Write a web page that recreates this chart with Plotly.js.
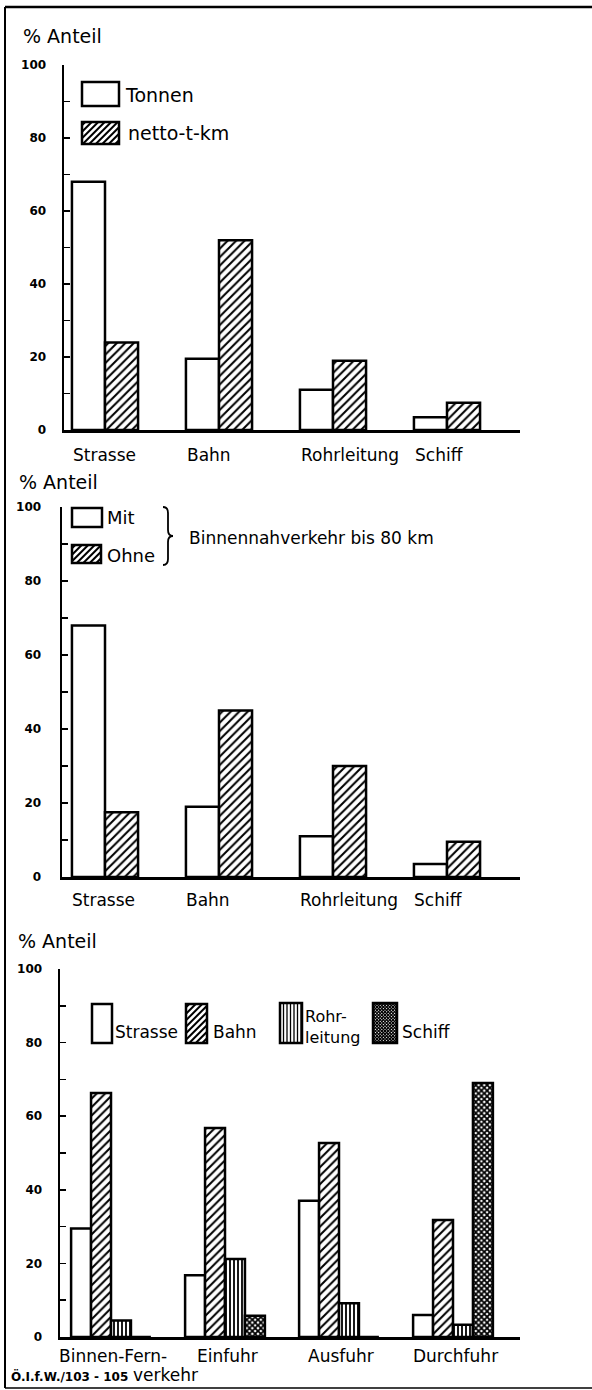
<!DOCTYPE html>
<html>
<head>
<meta charset="utf-8">
<script src="https://cdn.plot.ly/plotly-3.0.1.min.js"></script>
<style>
html,body{margin:0;padding:0;background:#fff;}
#chart{width:592px;height:1390px;}
</style>
</head>
<body>
<div id="chart"></div>
<script>
// ---------- data ----------
const cats1 = ["Strasse", "Bahn", "Rohrleitung", "Schiff"];
const tonnen = [68, 19.5, 11, 3.5];
const nettoTkm = [24, 52, 19, 7.5];

const cats2 = ["Strasse", "Bahn", "Rohrleitung", "Schiff"];
const mitNah = [68, 19, 11, 3.5];
const ohneNah = [17.5, 45, 30, 9.5];

const cats3 = ["Binnen-Fernverkehr", "Einfuhr", "Ausfuhr", "Durchfuhr"];
const catLabels3 = ["Binnen-Fern-|verkehr", "Einfuhr", "Ausfuhr", "Durchfuhr"];
const strasse3 = [29.5, 16.8, 37, 6];
const bahn3 = [66.3, 56.8, 52.7, 31.8];
const rohr3 = [4.5, 21.2, 9.2, 3.3];
const schiff3 = [0, 5.8, 0, 69];

const yTicks = [0, 20, 40, 60, 80, 100];

// ---------- helpers ----------
const W = 592, H = 1390;
const X = p => p / W;
const Y = p => 1 - p / H;
const FONT = "DejaVu Sans";
const INK = "#000";

const lineStyle = {color: INK, width: 2.5};
const patDiag = {shape: "/", fgcolor: INK, bgcolor: "white", size: 6, solidity: 0.34};
const patVert = {shape: "|", fgcolor: INK, bgcolor: "white", size: 4, solidity: 0.45};
const patCross = {shape: "x", fgcolor: INK, bgcolor: "white", size: 4, solidity: 0.7};

function bar(xs, ys, xa, ya, offset, width, pattern) {
  const m = {color: "white", line: lineStyle};
  if (pattern) m.pattern = pattern;
  return {type: "bar", x: xs, y: ys, xaxis: xa, yaxis: ya, offset: offset, width: width,
          marker: m, showlegend: false, hoverinfo: "skip"};
}

const w12 = 0.29, w3 = 0.175;
const data = [
  bar(cats1, tonnen, "x", "y", -w12, w12, null),
  bar(cats1, nettoTkm, "x", "y", 0, w12, patDiag),
  bar(cats2, mitNah, "x2", "y2", -w12, w12, null),
  bar(cats2, ohneNah, "x2", "y2", 0, w12, patDiag),
  bar(cats3, strasse3, "x3", "y3", -2 * w3, w3, null),
  bar(cats3, bahn3, "x3", "y3", -w3, w3, patDiag),
  bar(cats3, rohr3, "x3", "y3", 0, w3, patVert),
  bar(cats3, schiff3, "x3", "y3", w3, w3, patCross)
];

function xAxis(x0px, range, anchor) {
  return {domain: [X(x0px), X(520)], range: range, type: "category", anchor: anchor,
          showline: true, linecolor: INK, linewidth: 2.5, ticks: "", showticklabels: false,
          showgrid: false, zeroline: false, fixedrange: true};
}
function yAxis(py0, py100, anchor, standoff) {
  return {domain: [Y(py0), Y(py100)], range: [0, 100], anchor: anchor,
          showline: true, linecolor: INK, linewidth: 2.5,
          tickmode: "array", tickvals: yTicks, ticktext: yTicks.map(String),
          ticks: "inside", ticklen: 6, tickwidth: 1.5, tickcolor: INK,
          minor: {dtick: 10, tick0: 0, ticks: "inside", ticklen: 6, tickwidth: 1.5, tickcolor: INK},
          tickfont: {family: FONT, size: 12, color: INK, weight: "bold"},
          ticklabelstandoff: standoff,
          showgrid: false, zeroline: false, fixedrange: true};
}

// ---------- shapes (frame, legend swatches) ----------
const shapes = [];
function lineShape(x0, y0, x1, y1, w) {
  shapes.push({type: "line", xref: "paper", yref: "paper", x0: X(x0), y0: Y(y0), x1: X(x1), y1: Y(y1),
               line: {color: INK, width: w}});
}
lineShape(5, 7, 5, 1388, 2);
lineShape(5, 7, 592, 7, 2.5);
lineShape(5, 1388, 592, 1388, 1.5);

function pathShape(d, w) {
  shapes.push({type: "path", xref: "paper", yref: "paper", path: d, line: {color: INK, width: w}});
}
function P(x, y) { return X(x).toFixed(5) + "," + Y(y).toFixed(5); }
function diagPath(x0, y0, x1, y1, s, back) {
  let d = "";
  if (!back) {
    for (let c = x0 + y0 + s / 2; c < x1 + y1; c += s) {
      const xa = Math.max(x0, c - y1), xb = Math.min(x1, c - y0);
      if (xb > xa) d += "M" + P(xa, c - xa) + "L" + P(xb, c - xb);
    }
  } else {
    for (let c = x0 - y1 + s / 2; c < x1 - y0; c += s) {
      const xa = Math.max(x0, c + y0), xb = Math.min(x1, c + y1);
      if (xb > xa) d += "M" + P(xa, xa - c) + "L" + P(xb, xb - c);
    }
  }
  return d;
}
function vertPath(x0, y0, x1, y1, s) {
  let d = "";
  for (let x = x0 + s; x < x1 - 0.5; x += s) d += "M" + P(x, y0) + "L" + P(x, y1);
  return d;
}
function swatch(x0, y0, x1, y1, kind) {
  if (kind === "diag") pathShape(diagPath(x0, y0, x1, y1, 6.5, false), 2);
  if (kind === "vert") pathShape(vertPath(x0, y0, x1, y1, 3.5), 1.3);
  if (kind === "cross") {
    pathShape(diagPath(x0, y0, x1, y1, 3.2, false), 1.2);
    pathShape(diagPath(x0, y0, x1, y1, 3.2, true), 1.2);
  }
  shapes.push({type: "rect", xref: "paper", yref: "paper", x0: X(x0), y0: Y(y0), x1: X(x1), y1: Y(y1),
               line: {color: INK, width: 2.5}, fillcolor: "rgba(0,0,0,0)"});
}
// chart 1 legend
swatch(82, 82, 119, 106, "none");
swatch(82, 122, 119, 144, "diag");
// chart 2 legend
swatch(72, 508, 102, 527, "none");
swatch(72, 545, 101, 563, "diag");
pathShape("M" + P(163, 507) + "Q" + P(168, 507) + " " + P(168, 513) + "L" + P(168, 530) +
          "Q" + P(168, 536) + " " + P(173, 536) + "Q" + P(168, 536) + " " + P(168, 542) +
          "L" + P(168, 559) + "Q" + P(168, 565) + " " + P(163, 565), 1.8);
// chart 3 legend
swatch(92, 1004, 112, 1043, "none");
swatch(186, 1004, 207, 1043, "diag");
swatch(280, 1003, 302, 1043, "vert");
swatch(373, 1003, 397, 1043, "cross");

// ---------- annotations ----------
const annotations = [];
function txt(text, xpx, ypx, size, anchor, weight) {
  annotations.push({xref: "paper", yref: "paper", x: X(xpx), y: Y(ypx), text: text, showarrow: false,
                    xanchor: anchor || "left", yanchor: "middle", align: "left",
                    font: {family: FONT, size: size, color: INK, weight: weight || "normal"}});
}
txt("% Anteil", 21, 36, 19);
txt("% Anteil", 17, 482, 19);
txt("% Anteil", 16, 941, 19);

txt("Tonnen", 123, 95, 19);
txt("netto-t-km", 126, 133, 19);
txt("Mit", 105, 517, 18);
txt("Ohne", 105, 555, 18);
txt("Binnennahverkehr bis 80 km", 187, 538, 17);
txt("Strasse", 113, 1032, 17);
txt("Bahn", 211, 1032, 17);
txt("Rohr-<br>leitung", 303, 1027, 16);
txt("Schiff", 400, 1032, 17);

txt("Ö.I.f.W./103 - 105", 9, 1376, 12, "left", "bold");

// category labels
cats1.forEach(c => annotations.push({xref: "x", yref: "paper", x: c, y: Y(455), xanchor: "left", xshift: -34,
  yanchor: "middle", showarrow: false, text: c, font: {family: FONT, size: 17, color: INK}}));
cats2.forEach(c => annotations.push({xref: "x2", yref: "paper", x: c, y: Y(900), xanchor: "left", xshift: -35,
  yanchor: "middle", showarrow: false, text: c, font: {family: FONT, size: 17, color: INK}}));
cats3.forEach((c, i) => {
  const parts = catLabels3[i].split("|");
  annotations.push({xref: "x3", yref: "paper", x: c, y: Y(1356), xanchor: "center", xshift: 2,
    yanchor: "middle", showarrow: false, text: parts[0], font: {family: FONT, size: 17, color: INK}});
  if (parts[1]) annotations.push({xref: "x3", yref: "paper", x: c, y: Y(1375), xanchor: "left", xshift: 20,
    yanchor: "middle", showarrow: false, text: parts[1], font: {family: FONT, size: 17, color: INK}});
});

const layout = {
  width: W, height: H,
  margin: {l: 0, r: 0, t: 0, b: 0, pad: 0},
  paper_bgcolor: "white", plot_bgcolor: "rgba(0,0,0,0)",
  showlegend: false,
  barmode: "overlay",
  font: {family: FONT, color: INK},
  xaxis: xAxis(64, [-(105 - 64) / 114, 3 + (520 - 447) / 114], "y"),
  yaxis: yAxis(430, 65, "x", 13),
  xaxis2: xAxis(62, [-(105 - 62) / 114, 3 + (520 - 447) / 114], "y2"),
  yaxis2: yAxis(877, 507, "x2", 16),
  xaxis3: xAxis(60, [-(111 - 60) / 114, 3 + (520 - 453) / 114], "y3"),
  yaxis3: yAxis(1337, 969, "x3", 13),
  shapes: shapes,
  annotations: annotations
};

Plotly.newPlot("chart", data, layout, {staticPlot: true, displayModeBar: false});
</script>
</body>
</html>
